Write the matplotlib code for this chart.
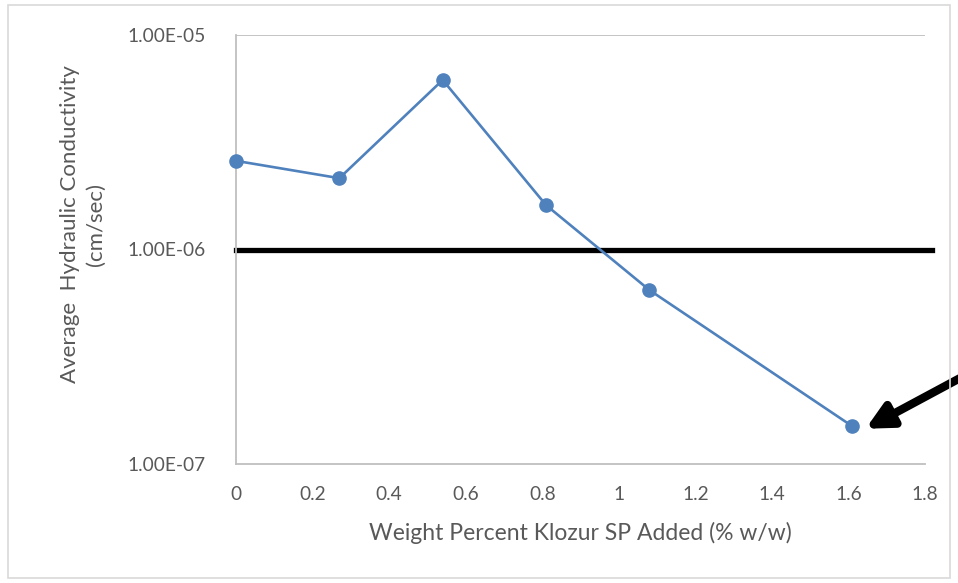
import matplotlib.pyplot as plt
from matplotlib.patches import Rectangle
from matplotlib.ticker import FixedLocator, FuncFormatter, NullLocator

# datos
pct_klozur = [0.0, 0.27, 0.54, 0.81, 1.08, 1.61]
conductividad = [2.59e-6, 2.15e-6, 6.17e-6, 1.61e-6, 6.47e-7, 1.50e-7]
limite = 1.0e-6
yticks = [1e-7, 1e-6, 1e-5]
xticks = [0, 0.2, 0.4, 0.6, 0.8, 1, 1.2, 1.4, 1.6, 1.8]

AZUL = "#4f81bd"
GRIS_TXT = "#595959"
GRIS_EJE = "#bfbfbf"

plt.rcParams['font.family'] = ['Lato', 'DejaVu Sans']

fig = plt.figure(figsize=(9.58, 5.83), dpi=100)
ax = fig.add_axes([236 / 958, 119 / 583, 689 / 958, 429 / 583])

ax.set_yscale('log')
ax.set_ylim(1e-7, 1e-5)
ax.set_xlim(0, 1.8)

# linea de referencia 1E-06
ax.axhline(limite, xmin=0, xmax=1.01, color='black', linewidth=3.8,
           clip_on=False, zorder=2)

ax.plot(pct_klozur, conductividad, color=AZUL, linewidth=1.9,
        marker='o', markersize=9.5, clip_on=False, zorder=3)

# solo la linea de grilla superior y los ejes grises
ax.axhline(1e-5, color=GRIS_EJE, linewidth=1.3, zorder=1)
for s in ['top', 'right']:
    ax.spines[s].set_visible(False)
for s in ['left', 'bottom']:
    ax.spines[s].set_color(GRIS_EJE)
    ax.spines[s].set_linewidth(1.3)

ax.yaxis.set_major_locator(FixedLocator(yticks))
ax.yaxis.set_minor_locator(NullLocator())
ax.yaxis.set_major_formatter(FuncFormatter(lambda v, p: f"{v:.2E}"))
ax.xaxis.set_major_locator(FixedLocator(xticks))
ax.xaxis.set_major_formatter(FuncFormatter(lambda v, p: f"{v:g}"))
ax.tick_params(axis='both', length=0, labelsize=13.8, colors=GRIS_TXT)
ax.tick_params(axis='y', pad=22)
ax.tick_params(axis='x', pad=16)

fig.text(580 / 958, 1 - 533 / 583, "Weight Percent Klozur SP Added (% w/w)",
         ha='center', va='center', fontsize=16.5, color=GRIS_TXT)
fig.text(83 / 958, 1 - 224 / 583, "Average  Hydraulic Conductivity\n(cm/sec)",
         ha='center', va='center', rotation=90, fontsize=16,
         color=GRIS_TXT, linespacing=1.4)

# flecha hacia el ultimo punto
ax.annotate("", xy=(1.645, 1.46e-7), xycoords='data',
            xytext=(990, 583 - 362), textcoords='figure pixels',
            arrowprops=dict(arrowstyle='-|>', color='black', lw=6,
                            mutation_scale=38, shrinkA=0, shrinkB=0),
            annotation_clip=False)

# borde del area del grafico
fig.patches.append(Rectangle((8 / 958, 5 / 583), 942 / 958, 573 / 583,
                             transform=fig.transFigure, fill=False,
                             edgecolor='#d9d9d9', linewidth=1.2))

fig.savefig("out.png", dpi=100)
